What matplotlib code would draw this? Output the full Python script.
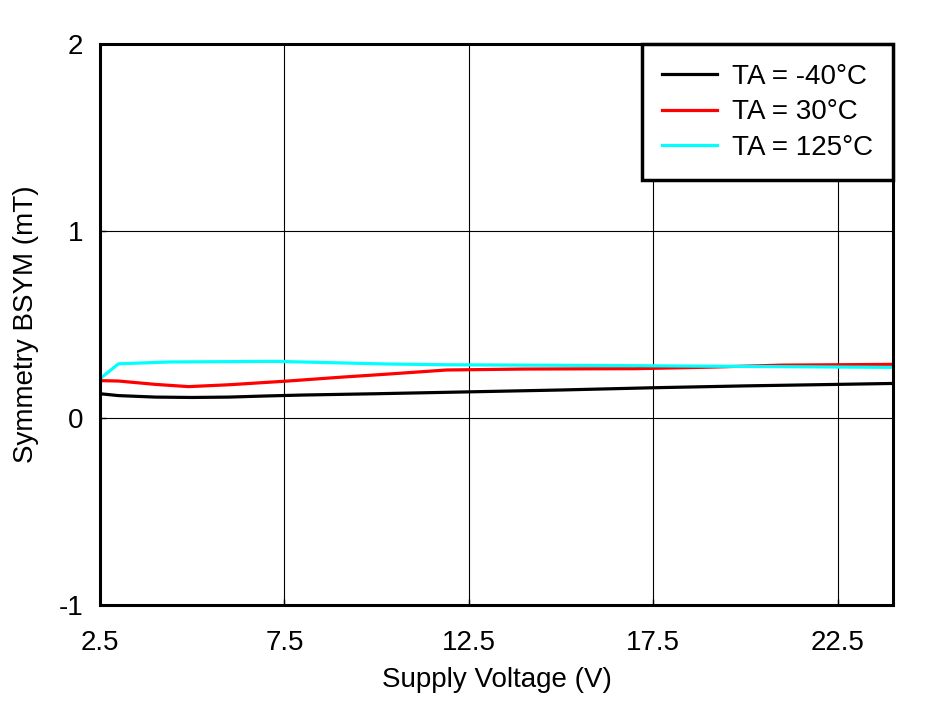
import numpy as np
import matplotlib.pyplot as plt

plt.rcParams['font.family'] = ['Liberation Sans', 'DejaVu Sans']
plt.rcParams['axes.unicode_minus'] = False

# supply voltage (V)
v_cold = [2.5, 3.0, 4.0, 5.0, 6.0, 7.0, 8.0, 10.0, 12.5, 15.0, 17.5, 20.0, 22.5, 24.0]
b_cold = [0.13, 0.12, 0.112, 0.11, 0.112, 0.118, 0.123, 0.13, 0.14, 0.15, 0.162, 0.172, 0.18, 0.185]

v_room = [2.5, 3.0, 4.0, 4.9, 6.0, 7.6, 9.0, 10.3, 11.9, 14.0, 17.0, 19.0, 21.0, 24.0]
b_room = [0.2, 0.198, 0.18, 0.168, 0.178, 0.198, 0.218, 0.235, 0.257, 0.262, 0.264, 0.272, 0.283, 0.287]

v_hot = [2.5, 3.0, 4.4, 7.3, 10.3, 11.9, 14.0, 17.0, 20.0, 24.0]
b_hot = [0.21, 0.29, 0.30, 0.303, 0.289, 0.285, 0.283, 0.28, 0.276, 0.271]

fig = plt.figure(figsize=(9.46, 7.01), dpi=100)
ax = fig.add_axes([0.1057, 0.137, 0.8383, 0.8])

ax.plot(v_cold, b_cold, color='black', lw=2.3, label='TA = -40°C')
ax.plot(v_room, b_room, color='red', lw=2.3, label='TA = 30°C')
ax.plot(v_hot, b_hot, color='cyan', lw=2.3, label='TA = 125°C')

ax.set_xlim(2.5, 24.0)
ax.set_ylim(-1, 2)
ax.set_xticks([2.5, 7.5, 12.5, 17.5, 22.5])
ax.set_xticklabels(['2.5', '7.5', '12.5', '17.5', '22.5'])
ax.set_yticks([-1, 0, 1, 2])
ax.tick_params(direction='in', labelsize=20, length=4, width=1)
ax.tick_params(axis='x', pad=18)
ax.tick_params(axis='y', pad=12)
ax.grid(True, color='black', lw=0.8)
for s in ax.spines.values():
    s.set_linewidth(2.2)

ax.set_xlabel('Supply Voltage (V)', fontsize=20, labelpad=8)
ax.set_ylabel('Symmetry BSYM (mT)', fontsize=20, labelpad=14)

leg = ax.legend(loc='upper right', fontsize=20, fancybox=False, framealpha=1,
                edgecolor='black', borderaxespad=0, handlelength=2.0,
                labelspacing=0.35, borderpad=0.7, handletextpad=0.55)
leg.get_frame().set_linewidth(2.5)

fig.savefig('out.png', dpi=100)
